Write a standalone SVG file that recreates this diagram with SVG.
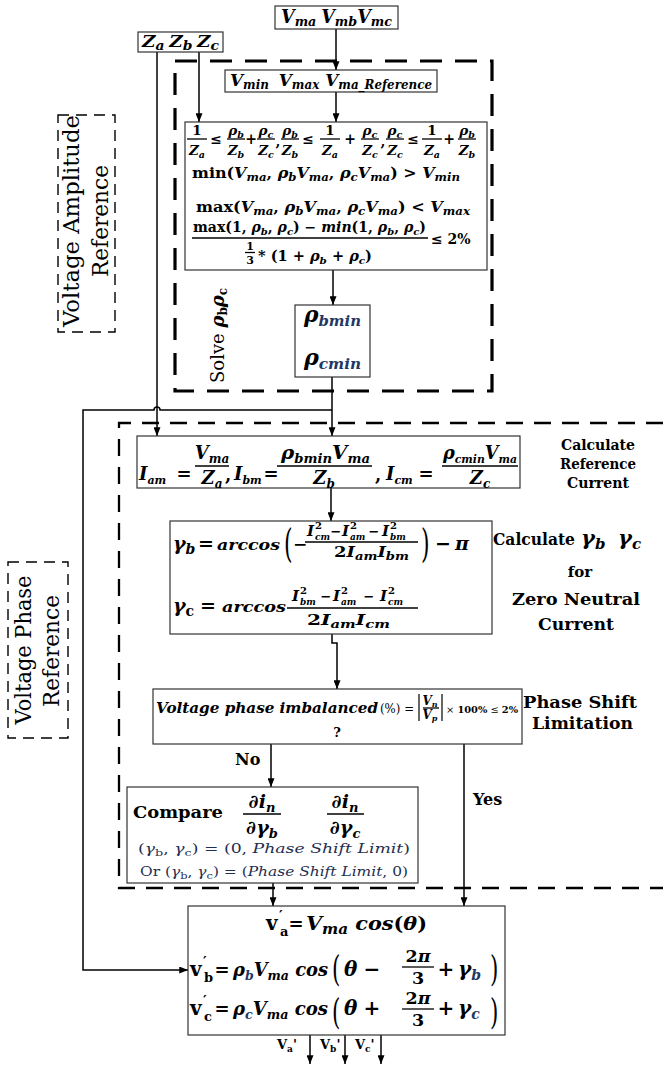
<svg xmlns="http://www.w3.org/2000/svg" width="663" height="1065" viewBox="0 0 663 1065" font-family="'DejaVu Serif', 'Liberation Serif', serif">
<style>
.t{font-family:"DejaVu Serif","Liberation Serif",serif;font-weight:bold;fill:#000}
.i{font-style:italic}
.u{font-style:normal}
.nw{font-weight:normal}
.bl{fill:#1f3864}
.nv{fill:#1f2f50}
.box{fill:#fff;stroke:#333;stroke-width:1.2}
.ar{fill:none;stroke:#000;stroke-width:1.5;marker-end:url(#ah)}
.fb{stroke:#000;stroke-width:1.3}
.d1{fill:none;stroke:#000;stroke-width:3.2;stroke-dasharray:22 13}
.d2{fill:none;stroke:#000;stroke-width:2.3;stroke-dasharray:17 11}
.d3{fill:none;stroke:#000;stroke-width:1.4;stroke-dasharray:11 7}
</style>
<defs>
<marker id="ah" viewBox="0 0 10 8" refX="10" refY="4" markerWidth="9" markerHeight="7" markerUnits="userSpaceOnUse" orient="auto"><path d="M0,0 L10,4 L0,8 z" fill="#000"/></marker>
</defs>
<rect x="0" y="0" width="663" height="1065" fill="#fff"/>

<g id="frames">
<rect class="d1" x="175" y="61" width="317" height="330"/>
<path class="d2" d="M663,423 H119 V888 H663"/>
<rect class="d3" x="58" y="115" width="57" height="217"/>
<rect class="d3" x="8" y="562" width="60" height="176"/>
</g>

<g id="connectors">
<path class="ar" d="M336,29 V70"/>
<path class="ar" d="M199,52 V122"/>
<path class="ar" d="M336,92 V122"/>
<path class="ar" d="M333,270 V305"/>
<path class="ar" d="M157,52 V436"/>
<path class="ar" d="M332,377 V436"/>
<path class="ar" d="M332,410 H160 A3,3 0 0 0 154,410 H83 V970 H188"/>
<path class="ar" d="M331,488 V521"/>
<path class="ar" d="M332,634 V643 H337 V689"/>
<path class="ar" d="M271,744 V787"/>
<path class="ar" d="M464,744 V906"/>
<path class="ar" d="M273,883 V906"/>
<path class="ar" d="M310,1035 V1064"/>
<path class="ar" d="M345,1035 V1064"/>
<path class="ar" d="M381,1035 V1064"/>
</g>

<g id="n-vm">
<rect class="box" x="275" y="6" width="123" height="23"/>
<text class="t i" x="281" y="23" font-size="18" textLength="111" lengthAdjust="spacingAndGlyphs">V<tspan font-size="13" dy="3">ma</tspan><tspan dy="-3" dx="5">V</tspan><tspan font-size="13" dy="3">mb</tspan><tspan dy="-3">V</tspan><tspan font-size="13" dy="3">mc</tspan></text>
</g>

<g id="n-z">
<rect class="box" x="138" y="32" width="85" height="20"/>
<text class="t i" x="142" y="47" font-size="16" textLength="77" lengthAdjust="spacingAndGlyphs">Z<tspan font-size="12" dy="3">a</tspan><tspan dy="-3" dx="4">Z</tspan><tspan font-size="12" dy="3">b</tspan><tspan dy="-3" dx="4">Z</tspan><tspan font-size="12" dy="3">c</tspan></text>
</g>

<g id="n-vlim">
<rect class="box" x="225" y="70" width="212" height="22"/>
<text class="t i" x="230" y="86" font-size="17" textLength="202" lengthAdjust="spacingAndGlyphs">V<tspan font-size="12" dy="3">min</tspan><tspan dy="-3" dx="10">V</tspan><tspan font-size="12" dy="3">max</tspan><tspan dy="-3" dx="6">V</tspan><tspan font-size="12" dy="3">ma_Reference</tspan></text>
</g>

<g id="n-cond">
<rect class="box" x="185" y="122" width="302" height="148"/>
<g class="t" font-size="13.5" text-anchor="middle">
<text x="197" y="135">1</text><text class="i" x="197" y="155">Z<tspan font-size="9.5" dy="3">a</tspan></text>
<text class="i" x="236" y="135">ρ<tspan font-size="9.5" dy="3">b</tspan></text><text class="i" x="236" y="155">Z<tspan font-size="9.5" dy="3">b</tspan></text>
<text class="i" x="266" y="135">ρ<tspan font-size="9.5" dy="3">c</tspan></text><text class="i" x="266" y="155">Z<tspan font-size="9.5" dy="3">c</tspan></text>
<text class="i" x="290" y="135">ρ<tspan font-size="9.5" dy="3">b</tspan></text><text class="i" x="290" y="155">Z<tspan font-size="9.5" dy="3">b</tspan></text>
<text x="330" y="135">1</text><text class="i" x="330" y="155">Z<tspan font-size="9.5" dy="3">a</tspan></text>
<text class="i" x="370" y="135">ρ<tspan font-size="9.5" dy="3">c</tspan></text><text class="i" x="370" y="155">Z<tspan font-size="9.5" dy="3">c</tspan></text>
<text class="i" x="395" y="135">ρ<tspan font-size="9.5" dy="3">c</tspan></text><text class="i" x="395" y="155">Z<tspan font-size="9.5" dy="3">c</tspan></text>
<text x="432" y="135">1</text><text class="i" x="432" y="155">Z<tspan font-size="9.5" dy="3">a</tspan></text>
<text class="i" x="467" y="135">ρ<tspan font-size="9.5" dy="3">b</tspan></text><text class="i" x="467" y="155">Z<tspan font-size="9.5" dy="3">b</tspan></text>
</g>
<g class="t" font-size="14" text-anchor="middle">
<text x="216" y="144">≤</text><text x="251" y="144">+</text><text x="278" y="146">,</text>
<text x="308" y="144">≤</text><text x="350" y="144">+</text><text x="383" y="146">,</text>
<text x="413" y="144">≤</text><text x="449" y="144">+</text>
</g>
<line class="fb" x1="187" y1="139" x2="207" y2="139"/>
<line class="fb" x1="227" y1="139" x2="245" y2="139"/>
<line class="fb" x1="257" y1="139" x2="275" y2="139"/>
<line class="fb" x1="281" y1="139" x2="299" y2="139"/>
<line class="fb" x1="320" y1="139" x2="340" y2="139"/>
<line class="fb" x1="361" y1="139" x2="379" y2="139"/>
<line class="fb" x1="386" y1="139" x2="404" y2="139"/>
<line class="fb" x1="422" y1="139" x2="442" y2="139"/>
<line class="fb" x1="458" y1="139" x2="476" y2="139"/>
<text class="t i" x="192" y="178" font-size="15" textLength="268" lengthAdjust="spacingAndGlyphs"><tspan class="u">min(</tspan>V<tspan font-size="11" dy="3">ma</tspan><tspan class="u" dy="-3">, </tspan>ρ<tspan font-size="11" dy="3">b</tspan><tspan dy="-3">V</tspan><tspan font-size="11" dy="3">ma</tspan><tspan class="u" dy="-3">, </tspan>ρ<tspan font-size="11" dy="3">c</tspan><tspan dy="-3">V</tspan><tspan font-size="11" dy="3">ma</tspan><tspan class="u" dy="-3">) &gt; </tspan>V<tspan font-size="11" dy="3">min</tspan></text>
<text class="t i" x="196" y="212" font-size="15" textLength="274" lengthAdjust="spacingAndGlyphs"><tspan class="u">max(</tspan>V<tspan font-size="11" dy="3">ma</tspan><tspan class="u" dy="-3">, </tspan>ρ<tspan font-size="11" dy="3">b</tspan><tspan dy="-3">V</tspan><tspan font-size="11" dy="3">ma</tspan><tspan class="u" dy="-3">, </tspan>ρ<tspan font-size="11" dy="3">c</tspan><tspan dy="-3">V</tspan><tspan font-size="11" dy="3">ma</tspan><tspan class="u" dy="-3">) &lt; </tspan>V<tspan font-size="11" dy="3">max</tspan></text>
<text class="t i" x="193" y="232" font-size="14" textLength="233" lengthAdjust="spacingAndGlyphs"><tspan class="u">max(1, </tspan>ρ<tspan font-size="10" dy="3">b</tspan><tspan class="u" dy="-3">, </tspan>ρ<tspan font-size="10" dy="3">c</tspan><tspan class="u" dy="-3">) − </tspan>min<tspan class="u">(1, </tspan>ρ<tspan font-size="10" dy="3">b</tspan><tspan class="u" dy="-3">, </tspan>ρ<tspan font-size="10" dy="3">c</tspan><tspan class="u" dy="-3">)</tspan></text>
<line class="fb" x1="192" y1="238" x2="428" y2="238"/>
<text class="t" x="431" y="244" font-size="14">≤ 2%</text>
<text class="t" x="250" y="250" font-size="11" text-anchor="middle">1</text>
<line class="fb" x1="245" y1="252.5" x2="255" y2="252.5"/>
<text class="t" x="250" y="264" font-size="11" text-anchor="middle">3</text>
<text class="t i" x="258" y="261" font-size="14" textLength="114" lengthAdjust="spacingAndGlyphs"><tspan class="u">* (1 + </tspan>ρ<tspan font-size="10" dy="3">b</tspan><tspan class="u" dy="-3"> + </tspan>ρ<tspan font-size="10" dy="3">c</tspan><tspan class="u" dy="-3">)</tspan></text>
</g>

<g id="n-solve">
<text class="t nw" transform="translate(224,383) rotate(-90)" font-size="18">Solve <tspan class="i" font-weight="bold">ρ</tspan><tspan font-size="12" dy="3" font-weight="bold">b</tspan><tspan class="i" font-weight="bold" dy="-3">ρ</tspan><tspan font-size="12" dy="3" font-weight="bold">c</tspan></text>
</g>

<g id="n-rho">
<rect class="box" x="295" y="305" width="75" height="72"/>
<text class="t i" x="304" y="322" font-size="22" textLength="57" lengthAdjust="spacingAndGlyphs">ρ<tspan class="bl" font-size="15" dy="4">bmin</tspan></text>
<text class="t i" x="304" y="365" font-size="22" textLength="57" lengthAdjust="spacingAndGlyphs">ρ<tspan class="bl" font-size="15" dy="4">cmin</tspan></text>
</g>

<g id="n-current">
<rect class="box" x="137" y="436" width="383" height="52"/>
<g class="t i" font-size="18">
<text x="139" y="480">I<tspan font-size="11" dy="4">am</tspan></text>
<text class="u" x="184" y="480" text-anchor="middle">=</text>
<text x="212" y="459" text-anchor="middle">V<tspan font-size="12" dy="4">ma</tspan></text>
<text x="212" y="484" text-anchor="middle">Z<tspan font-size="12" dy="4">a</tspan></text>
<text class="u" x="225" y="481">,</text>
<text x="234" y="480">I<tspan font-size="11" dy="4">bm</tspan></text>
<text class="u" x="271" y="480" text-anchor="middle">=</text>
<text x="281" y="459" textLength="89" lengthAdjust="spacingAndGlyphs">ρ<tspan font-size="12" dy="4">bmin</tspan><tspan dy="-4">V</tspan><tspan font-size="12" dy="4">ma</tspan></text>
<text x="324" y="484" text-anchor="middle">Z<tspan font-size="12" dy="4">b</tspan></text>
<text class="u" x="375" y="481">,</text>
<text x="386" y="480">I<tspan font-size="11" dy="4">cm</tspan></text>
<text class="u" x="426" y="480" text-anchor="middle">=</text>
<text x="443" y="459" textLength="74" lengthAdjust="spacingAndGlyphs">ρ<tspan font-size="11" dy="4">cmin</tspan><tspan dy="-4">V</tspan><tspan font-size="11" dy="4">ma</tspan></text>
<text x="480" y="484" text-anchor="middle">Z<tspan font-size="12" dy="4">c</tspan></text>
</g>
<line class="fb" x1="195" y1="466" x2="229" y2="466"/>
<line class="fb" x1="277" y1="466" x2="372" y2="466"/>
<line class="fb" x1="442" y1="466" x2="518" y2="466"/>
</g>

<g id="n-gamma">
<rect class="box" x="170" y="521" width="322" height="113"/>
<g class="t i" font-size="19">
<text x="173" y="550">γ<tspan font-size="14" dy="4">b</tspan></text>
<text class="u" x="206" y="550" text-anchor="middle">=</text>
<text x="217" y="550" font-size="15" textLength="63" lengthAdjust="spacingAndGlyphs">arccos</text>
<text class="u nw" transform="translate(284,557) scale(0.55,1)" font-size="40">(</text>
<text class="u" x="300" y="550" font-size="17" text-anchor="middle">−</text>
<text class="u nw" transform="translate(421,557) scale(0.55,1)" font-size="40">)</text>
<text class="u" x="443" y="550" text-anchor="middle">−</text>
<text x="455" y="550">π</text>
<text x="173" y="612">γ<tspan class="u" font-size="14" dy="4">c</tspan></text>
<text class="u" x="208" y="612" text-anchor="middle">=</text>
<text x="222" y="612" font-size="15" textLength="64" lengthAdjust="spacingAndGlyphs">arccos</text>
</g>
<g class="t i" font-size="15">
<text x="307" y="536">I</text><text class="u" x="315" y="529" font-size="10">2</text><text x="315" y="540" font-size="9">cm</text>
<text class="u" x="336" y="536" font-size="13" text-anchor="middle">−</text>
<text x="342" y="536">I</text><text class="u" x="350" y="529" font-size="10">2</text><text x="350" y="540" font-size="9">am</text>
<text class="u" x="374" y="536" font-size="13" text-anchor="middle">−</text>
<text x="382" y="536">I</text><text class="u" x="390" y="529" font-size="10">2</text><text x="390" y="540" font-size="9">bm</text>
<text x="334" y="557" textLength="75" lengthAdjust="spacingAndGlyphs"><tspan class="u">2</tspan>I<tspan font-size="11" dy="3">am</tspan><tspan dy="-3">I</tspan><tspan font-size="11" dy="3">bm</tspan></text>
<text x="292" y="601">I</text><text class="u" x="300" y="594" font-size="10">2</text><text x="300" y="605" font-size="9">bm</text>
<text class="u" x="326" y="601" font-size="13" text-anchor="middle">−</text>
<text x="333" y="601">I</text><text class="u" x="341" y="594" font-size="10">2</text><text x="341" y="605" font-size="9">am</text>
<text class="u" x="369" y="601" font-size="13" text-anchor="middle">−</text>
<text x="380" y="601">I</text><text class="u" x="388" y="594" font-size="10">2</text><text x="388" y="605" font-size="9">cm</text>
<text x="307" y="625" textLength="83" lengthAdjust="spacingAndGlyphs"><tspan class="u">2</tspan>I<tspan font-size="11" dy="3">am</tspan><tspan dy="-3">I</tspan><tspan font-size="11" dy="3">cm</tspan></text>
</g>
<line class="fb" x1="305" y1="542" x2="418" y2="542"/>
<line class="fb" x1="287" y1="608" x2="418" y2="608"/>
</g>

<g id="n-phase">
<rect class="box" x="153" y="689" width="369" height="55"/>
<text class="t i" x="156" y="713" font-size="14" textLength="222" lengthAdjust="spacingAndGlyphs">Voltage phase imbalanced</text>
<text class="t nw" x="380" y="713" font-size="12" fill="#444" textLength="34" lengthAdjust="spacingAndGlyphs">(%) =</text>
<line x1="419" y1="694" x2="419" y2="721" stroke="#000" stroke-width="1.2"/>
<line x1="442" y1="694" x2="442" y2="721" stroke="#000" stroke-width="1.2"/>
<text class="t i" x="430" y="705" font-size="12" text-anchor="middle">V<tspan font-size="8" dy="2">n</tspan></text>
<line class="fb" x1="423" y1="708" x2="439" y2="708" stroke-width="1"/>
<text class="t i" x="430" y="719" font-size="12" text-anchor="middle">V<tspan font-size="8" dy="2">p</tspan></text>
<text class="t" x="446" y="713" font-size="10" textLength="72" lengthAdjust="spacingAndGlyphs"><tspan class="nw">× </tspan>100%<tspan class="nw"> ≤ </tspan>2%</text>
<text class="t" x="337" y="737" font-size="13" text-anchor="middle">?</text>
</g>

<g id="n-compare">
<rect class="box" x="127" y="787" width="291" height="96"/>
<text class="t" x="133" y="818" font-size="17" textLength="90" lengthAdjust="spacingAndGlyphs">Compare</text>
<g class="t i" font-size="19" text-anchor="middle">
<text x="262" y="808">∂i<tspan font-size="13" dy="4">n</tspan></text>
<text x="262" y="834">∂γ<tspan font-size="13" dy="4">b</tspan></text>
<text x="345" y="808">∂i<tspan font-size="13" dy="4">n</tspan></text>
<text x="345" y="834">∂γ<tspan font-size="13" dy="4">c</tspan></text>
</g>
<line class="fb" x1="243" y1="814" x2="281" y2="814"/>
<line class="fb" x1="327" y1="814" x2="364" y2="814"/>
<text class="t nw nv" x="138" y="853" font-size="13.5" textLength="272" lengthAdjust="spacingAndGlyphs">(<tspan class="i">γ</tspan><tspan font-size="10" dy="3">b</tspan><tspan dy="-3">, </tspan><tspan class="i">γ</tspan><tspan font-size="10" dy="3">c</tspan><tspan dy="-3">) = (0, </tspan><tspan class="i">Phase Shift Limit</tspan>)</text>
<text class="t nw nv" x="140" y="876" font-size="13.5" textLength="268" lengthAdjust="spacingAndGlyphs">Or (<tspan class="i">γ</tspan><tspan font-size="10" dy="3">b</tspan><tspan dy="-3">, </tspan><tspan class="i">γ</tspan><tspan font-size="10" dy="3">c</tspan><tspan dy="-3">) = (</tspan><tspan class="i">Phase Shift Limit</tspan>, 0)</text>
</g>

<g id="n-output">
<rect class="box" x="188" y="906" width="317" height="129"/>
<g class="t" font-size="20">
<text x="266" y="930">v</text><text x="279" y="921" font-size="14">′</text><text x="280" y="936" font-size="13">a</text>
<text x="296" y="930" font-size="18" text-anchor="middle">=</text>
<text class="i" x="306" y="930" font-size="19" textLength="121" lengthAdjust="spacingAndGlyphs">V<tspan font-size="14" dy="4">ma</tspan><tspan dy="-4"> cos</tspan><tspan class="u">(</tspan>θ<tspan class="u">)</tspan></text>

<text x="190" y="976">v</text><text x="203" y="967" font-size="14">′</text><text x="204" y="982" font-size="13">b</text>
<text x="222" y="976" font-size="18" text-anchor="middle">=</text>
<text class="i" x="233" y="976" font-size="18.5" textLength="95" lengthAdjust="spacingAndGlyphs">ρ<tspan class="bl" font-size="13" dy="4">b</tspan><tspan dy="-4">V</tspan><tspan font-size="13" dy="4">ma</tspan><tspan dy="-4"> cos</tspan></text>
<text class="nw" transform="translate(332,981) scale(0.65,1.1)" font-size="33">(</text>
<text class="i" x="344" y="976">θ</text>
<text x="372" y="976" text-anchor="middle">−</text>
<text x="418" y="962" font-size="17.5" text-anchor="middle">2<tspan class="i">π</tspan></text>
<text x="418" y="984" font-size="17.5" text-anchor="middle">3</text>
<text x="446" y="976" text-anchor="middle">+</text>
<text class="i" x="458" y="976">γ<tspan class="bl" font-size="14" dy="4">b</tspan></text>
<text class="nw" transform="translate(490,981) scale(0.65,1.1)" font-size="33">)</text>

<text x="190" y="1015">v</text><text x="203" y="1006" font-size="14">′</text><text x="204" y="1021" font-size="13">c</text>
<text x="222" y="1015" font-size="18" text-anchor="middle">=</text>
<text class="i" x="233" y="1015" font-size="18.5" textLength="95" lengthAdjust="spacingAndGlyphs">ρ<tspan class="bl" font-size="13" dy="4">c</tspan><tspan dy="-4">V</tspan><tspan font-size="13" dy="4">ma</tspan><tspan dy="-4"> cos</tspan></text>
<text class="nw" transform="translate(332,1024) scale(0.65,1.1)" font-size="33">(</text>
<text class="i" x="344" y="1015">θ</text>
<text x="372" y="1015" text-anchor="middle">+</text>
<text x="418" y="1004" font-size="17.5" text-anchor="middle">2<tspan class="i">π</tspan></text>
<text x="418" y="1026" font-size="17.5" text-anchor="middle">3</text>
<text x="446" y="1015" text-anchor="middle">+</text>
<text class="i" x="458" y="1015">γ<tspan class="bl" font-size="14" dy="4">c</tspan></text>
<text class="nw" transform="translate(490,1024) scale(0.65,1.1)" font-size="33">)</text>
</g>
<line class="fb" x1="402" y1="967" x2="434" y2="967"/>
<line class="fb" x1="402" y1="1009" x2="434" y2="1009"/>
</g>

<g id="labels">
<text class="t" x="277" y="1049" font-size="13">V<tspan font-size="9" dy="3">a</tspan><tspan dy="-3">'</tspan></text>
<text class="t" x="320" y="1049" font-size="13">V<tspan font-size="9" dy="3">b</tspan><tspan dy="-3">'</tspan></text>
<text class="t" x="355" y="1049" font-size="13">V<tspan font-size="9" dy="3">c</tspan><tspan dy="-3">'</tspan></text>
<text class="t" x="235" y="765" font-size="16">No</text>
<text class="t" x="473" y="805" font-size="16">Yes</text>
<g class="t" font-size="14.5" text-anchor="middle">
<text x="598" y="450" textLength="74" lengthAdjust="spacingAndGlyphs">Calculate</text>
<text x="598" y="469" textLength="76" lengthAdjust="spacingAndGlyphs">Reference</text>
<text x="598" y="488" textLength="62" lengthAdjust="spacingAndGlyphs">Current</text>
</g>
<g class="t" font-size="17" text-anchor="middle">
<text x="580" y="577" font-size="15">for</text>
<text x="576" y="605" textLength="128" lengthAdjust="spacingAndGlyphs">Zero Neutral</text>
<text x="576" y="630" textLength="76" lengthAdjust="spacingAndGlyphs">Current</text>
</g>
<text class="t" x="493" y="545" font-size="16" textLength="82" lengthAdjust="spacingAndGlyphs">Calculate</text>
<text class="t i" x="581" y="545" font-size="21">γ<tspan font-size="15" dy="4">b</tspan></text>
<text class="t i" x="618" y="545" font-size="21">γ<tspan font-size="15" dy="4">c</tspan></text>
<text class="t" x="523" y="708" font-size="17" textLength="114" lengthAdjust="spacingAndGlyphs">Phase Shift</text>
<text class="t" x="532" y="729" font-size="17" textLength="101" lengthAdjust="spacingAndGlyphs">Limitation</text>
<g class="t nw" font-size="22" text-anchor="middle">
<text transform="translate(79,221) rotate(-90)" textLength="212" lengthAdjust="spacingAndGlyphs">Voltage Amplitude</text>
<text transform="translate(108,221) rotate(-90)" textLength="112" lengthAdjust="spacingAndGlyphs">Reference</text>
<text transform="translate(31,650) rotate(-90)" textLength="149" lengthAdjust="spacingAndGlyphs">Voltage Phase</text>
<text transform="translate(59,651) rotate(-90)" textLength="112" lengthAdjust="spacingAndGlyphs">Reference</text>
</g>
</g>
</svg>
